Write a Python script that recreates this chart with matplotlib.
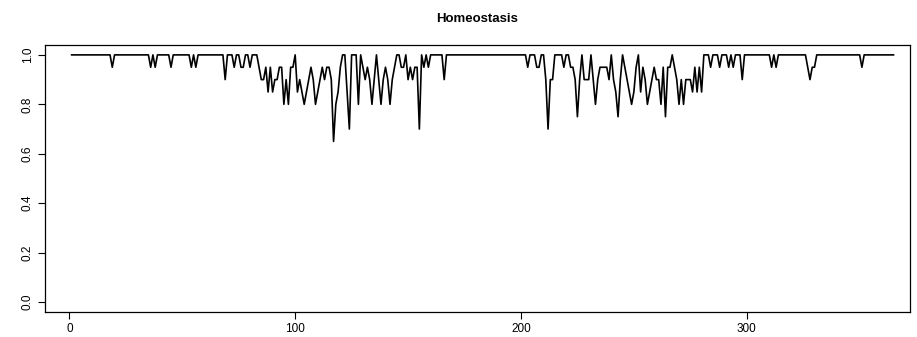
import matplotlib
matplotlib.use("Agg")
import matplotlib.pyplot as plt
import numpy as np

# daily homeostasis score, days 1..365 (10 per row)
homeostasis = [
    1, 1, 1, 1, 1, 1, 1, 1, 1, 1,
    1, 1, 1, 1, 1, 1, 1, 1, 0.95, 1,
    1, 1, 1, 1, 1, 1, 1, 1, 1, 1,
    1, 1, 1, 1, 1, 0.95, 1, 0.95, 1, 1,
    1, 1, 1, 1, 0.95, 1, 1, 1, 1, 1,
    1, 1, 1, 0.95, 1, 0.95, 1, 1, 1, 1,
    1, 1, 1, 1, 1, 1, 1, 1, 0.9, 1,
    1, 1, 0.95, 1, 1, 0.95, 0.95, 1, 1, 0.95,
    1, 1, 1, 0.95, 0.9, 0.9, 0.95, 0.85, 0.95, 0.85,
    0.9, 0.9, 0.95, 0.95, 0.8, 0.9, 0.8, 0.95, 0.95, 1,
    0.85, 0.9, 0.85, 0.8, 0.85, 0.9, 0.95, 0.9, 0.8, 0.85,
    0.9, 0.95, 0.9, 0.95, 0.95, 0.9, 0.65, 0.8, 0.85, 0.95,
    1, 1, 0.85, 0.7, 1, 1, 1, 0.8, 1, 0.95,
    0.9, 0.95, 0.9, 0.8, 0.9, 1, 0.9, 0.8, 0.9, 0.95,
    0.9, 0.8, 0.9, 0.95, 1, 1, 0.95, 0.95, 1, 0.9,
    0.95, 0.9, 0.95, 0.95, 0.7, 1, 0.95, 1, 0.95, 1,
    1, 1, 1, 1, 1, 0.9, 1, 1, 1, 1,
    1, 1, 1, 1, 1, 1, 1, 1, 1, 1,
    1, 1, 1, 1, 1, 1, 1, 1, 1, 1,
    1, 1, 1, 1, 1, 1, 1, 1, 1, 1,
    1, 1, 0.95, 1, 1, 1, 0.95, 0.95, 1, 1,
    0.9, 0.7, 0.9, 0.9, 1, 1, 1, 1, 0.95, 1,
    1, 0.95, 0.95, 0.9, 0.75, 0.9, 1, 0.9, 0.9, 0.9,
    1, 0.9, 0.8, 0.9, 0.95, 0.95, 0.95, 0.95, 0.9, 1,
    0.9, 0.85, 0.75, 0.9, 1, 0.95, 0.9, 0.85, 0.8, 0.85,
    0.95, 1, 0.85, 0.95, 0.9, 0.8, 0.85, 0.9, 0.95, 0.9,
    0.9, 0.8, 0.95, 0.75, 0.95, 0.95, 1, 0.95, 0.9, 0.8,
    0.9, 0.8, 0.9, 0.9, 0.9, 0.85, 0.95, 0.85, 0.95, 0.85,
    1, 1, 1, 0.95, 1, 1, 1, 0.95, 1, 1,
    1, 0.95, 1, 0.95, 1, 1, 1, 0.9, 1, 1,
    1, 1, 1, 1, 1, 1, 1, 1, 1, 1,
    0.95, 1, 0.95, 1, 1, 1, 1, 1, 1, 1,
    1, 1, 1, 1, 1, 1, 0.95, 0.9, 0.95, 0.95,
    1, 1, 1, 1, 1, 1, 1, 1, 1, 1,
    1, 1, 1, 1, 1, 1, 1, 1, 1, 1,
    0.95, 1, 1, 1, 1, 1, 1, 1, 1, 1,
    1, 1, 1, 1, 1,
]
days = np.arange(1, len(homeostasis) + 1)

x_ticks = [0, 100, 200, 300]
y_ticks = [0.0, 0.2, 0.4, 0.6, 0.8, 1.0]

plt.rcParams["font.family"] = ["Liberation Sans", "DejaVu Sans"]

W, H = 917, 337
fig = plt.figure(figsize=(W / 100, H / 100), dpi=100)
# axes box in pixels: left 45, right 910, top 45, bottom 312
ax = fig.add_axes([45 / W, (H - 312) / H, (910 - 45) / W, (312 - 45) / H])

ax.plot(days, homeostasis, color="black", linewidth=1.2)

ax.set_xlim(-10.8, 372.3)
ax.set_ylim(-0.04, 1.04)
ax.set_xticks(x_ticks)
ax.set_yticks(y_ticks)
ax.set_xticklabels([str(t) for t in x_ticks], fontsize=8.5)
ax.set_yticklabels([f"{t:.1f}" for t in y_ticks], fontsize=8.5, rotation=90, va="center")
ax.tick_params(direction="out", length=5, width=0.8, color="black", pad=3)
for s in ax.spines.values():
    s.set_linewidth(0.9)

fig.text(477 / W, 1 - 19 / H, "Homeostasis", ha="center", va="center",
         fontsize=9.5, fontweight="bold")

fig.savefig("out.png", dpi=100)
